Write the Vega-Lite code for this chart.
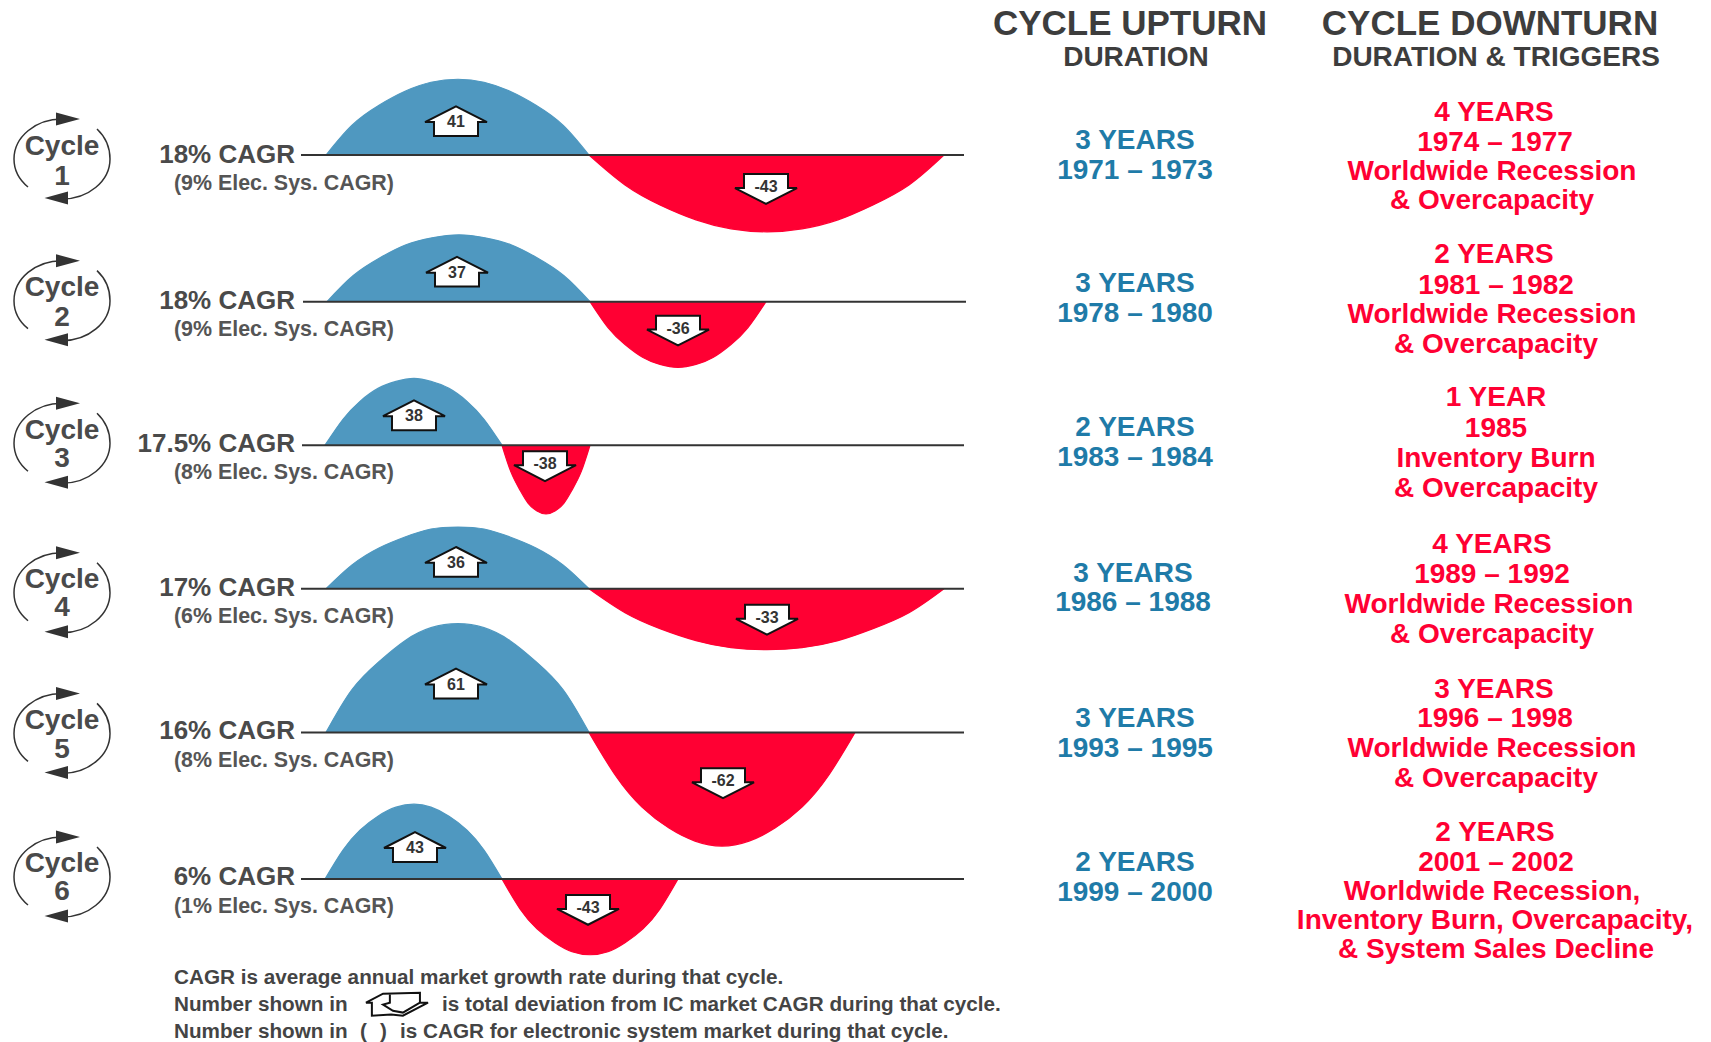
{"$schema":"https://vega.github.io/schema/vega-lite/v6.json","width":1711,"height":1042,"autosize":{"type":"fit","contains":"padding"},"padding":0,"background":"white","view":{"stroke":null},
"datasets":{
"curves":[
{"lobe":"1u","t":"up","x":[326,352,379,405,431,458,484,510,536,563,589],"y":[154,124,104,90,81,78,81,90,104,124,154],"b":154},
{"lobe":"1d","t":"down","x":[589,625,660,696,731,767,802,838,873,909,944],"y":[154,184,204,219,228,231,228,219,204,184,154],"b":154},
{"lobe":"2u","t":"up","x":[327,353,380,406,432,459,485,511,537,564,590],"y":[301,275,257,244,237,234,237,244,257,275,301],"b":301},
{"lobe":"2d","t":"down","x":[590,608,625,643,660,678,696,713,731,748,766],"y":[301,327,344,357,364,367,364,357,344,327,301],"b":301},
{"lobe":"3u","t":"up","x":[325,343,360,378,396,414,431,449,467,484,502],"y":[445,419,401,388,381,378,381,388,401,419,445],"b":445},
{"lobe":"3d","t":"down","x":[502,511,520,528,537,546,555,564,572,581,590],"y":[445,472,490,503,511,514,511,503,490,472,445],"b":445},
{"lobe":"4u","t":"up","x":[326,352,379,405,431,458,484,510,536,563,589],"y":[589,565,548,537,529,527,529,537,548,565,589],"b":589},
{"lobe":"4d","t":"down","x":[589,625,660,696,731,767,802,838,873,909,944],"y":[589,613,629,641,648,650,648,641,629,613,589],"b":589},
{"lobe":"5u","t":"up","x":[326,352,379,405,431,458,484,510,536,563,589],"y":[733,690,662,641,628,624,628,641,662,690,733],"b":733},
{"lobe":"5d","t":"down","x":[589,616,642,669,695,722,749,775,802,828,855],"y":[733,777,808,829,842,847,842,829,808,777,733],"b":733},
{"lobe":"6u","t":"up","x":[325,343,360,378,396,414,431,449,467,484,502],"y":[880,851,831,817,808,805,808,817,831,851,880],"b":880},
{"lobe":"6d","t":"down","x":[502,520,537,555,572,590,608,625,643,660,678],"y":[880,910,930,944,953,956,953,944,930,910,880],"b":880}
],
"baselines":[{"x":301,"x2":964,"y":154},{"x":303,"x2":966,"y":301},{"x":302,"x2":964,"y":445},{"x":301,"x2":964,"y":589},{"x":301,"x2":964,"y":733},{"x":301,"x2":964,"y":880}],
"badges":[{"c":"1","x":62,"y":158},{"c":"2","x":62,"y":300},{"c":"3","x":62,"y":443},{"c":"4","x":62,"y":593},{"c":"5","x":62,"y":734},{"c":"6","x":62,"y":878}],
"upArrows":[{"v":"41","x":456,"y":120},{"v":"37","x":457,"y":271},{"v":"38","x":414,"y":415},{"v":"36","x":456,"y":562},{"v":"61","x":456,"y":684},{"v":"43","x":415,"y":848}],
"downArrows":[{"v":"-43","x":766,"y":188},{"v":"-36","x":678,"y":330},{"v":"-38","x":545,"y":466},{"v":"-33","x":767,"y":620},{"v":"-62","x":723,"y":784},{"v":"-43","x":588,"y":911}],
"center":[
{"s":"CYCLE UPTURN","x":1130,"y":23,"f":35,"c":"#3d3d3d"},{"s":"DURATION","x":1136,"y":57,"f":28,"c":"#3d3d3d"},
{"s":"CYCLE DOWNTURN","x":1490,"y":23,"f":35,"c":"#3d3d3d"},{"s":"DURATION & TRIGGERS","x":1496,"y":57,"f":28,"c":"#3d3d3d"},
{"s":"Cycle","x":62,"y":146,"f":28,"c":"#4a4a4a"},{"s":"1","x":62,"y":176,"f":28,"c":"#4a4a4a"},
{"s":"Cycle","x":62,"y":287,"f":28,"c":"#4a4a4a"},{"s":"2","x":62,"y":317,"f":28,"c":"#4a4a4a"},
{"s":"Cycle","x":62,"y":431,"f":28,"c":"#4a4a4a"},{"s":"3","x":62,"y":459,"f":28,"c":"#4a4a4a"},
{"s":"Cycle","x":62,"y":580,"f":28,"c":"#4a4a4a"},{"s":"4","x":62,"y":608,"f":28,"c":"#4a4a4a"},
{"s":"Cycle","x":62,"y":722,"f":28,"c":"#4a4a4a"},{"s":"5","x":62,"y":751,"f":28,"c":"#4a4a4a"},
{"s":"Cycle","x":62,"y":865,"f":28,"c":"#4a4a4a"},{"s":"6","x":62,"y":893,"f":28,"c":"#4a4a4a"},
{"s":"3 YEARS","x":1135,"y":140,"f":28,"c":"#1f7ba8"},{"s":"1971 – 1973","x":1135,"y":170,"f":28,"c":"#1f7ba8"},
{"s":"3 YEARS","x":1135,"y":283,"f":28,"c":"#1f7ba8"},{"s":"1978 – 1980","x":1135,"y":313,"f":28,"c":"#1f7ba8"},
{"s":"2 YEARS","x":1135,"y":428,"f":28,"c":"#1f7ba8"},{"s":"1983 – 1984","x":1135,"y":458,"f":28,"c":"#1f7ba8"},
{"s":"3 YEARS","x":1133,"y":574,"f":28,"c":"#1f7ba8"},{"s":"1986 – 1988","x":1133,"y":603,"f":28,"c":"#1f7ba8"},
{"s":"3 YEARS","x":1135,"y":720,"f":28,"c":"#1f7ba8"},{"s":"1993 – 1995","x":1135,"y":750,"f":28,"c":"#1f7ba8"},
{"s":"2 YEARS","x":1135,"y":864,"f":28,"c":"#1f7ba8"},{"s":"1999 – 2000","x":1135,"y":894,"f":28,"c":"#1f7ba8"},
{"s":"4 YEARS","x":1494,"y":112,"f":28,"c":"#ff0033"},{"s":"1974 – 1977","x":1495,"y":142,"f":28,"c":"#ff0033"},{"s":"Worldwide Recession","x":1492,"y":171,"f":28,"c":"#ff0033"},{"s":"& Overcapacity","x":1492,"y":200,"f":28,"c":"#ff0033"},
{"s":"2 YEARS","x":1494,"y":254,"f":28,"c":"#ff0033"},{"s":"1981 – 1982","x":1496,"y":285,"f":28,"c":"#ff0033"},{"s":"Worldwide Recession","x":1492,"y":314,"f":28,"c":"#ff0033"},{"s":"& Overcapacity","x":1496,"y":344,"f":28,"c":"#ff0033"},
{"s":"1 YEAR","x":1496,"y":398,"f":28,"c":"#ff0033"},{"s":"1985","x":1496,"y":429,"f":28,"c":"#ff0033"},{"s":"Inventory Burn","x":1496,"y":459,"f":28,"c":"#ff0033"},{"s":"& Overcapacity","x":1496,"y":489,"f":28,"c":"#ff0033"},
{"s":"4 YEARS","x":1492,"y":545,"f":28,"c":"#ff0033"},{"s":"1989 – 1992","x":1492,"y":575,"f":28,"c":"#ff0033"},{"s":"Worldwide Recession","x":1489,"y":605,"f":28,"c":"#ff0033"},{"s":"& Overcapacity","x":1492,"y":635,"f":28,"c":"#ff0033"},
{"s":"3 YEARS","x":1494,"y":690,"f":28,"c":"#ff0033"},{"s":"1996 – 1998","x":1495,"y":720,"f":28,"c":"#ff0033"},{"s":"Worldwide Recession","x":1492,"y":750,"f":28,"c":"#ff0033"},{"s":"& Overcapacity","x":1496,"y":780,"f":28,"c":"#ff0033"},
{"s":"2 YEARS","x":1495,"y":834,"f":28,"c":"#ff0033"},{"s":"2001 – 2002","x":1496,"y":864,"f":28,"c":"#ff0033"},{"s":"Worldwide Recession,","x":1492,"y":893,"f":28,"c":"#ff0033"},{"s":"Inventory Burn, Overcapacity,","x":1495,"y":922,"f":28,"c":"#ff0033"},{"s":"& System Sales Decline","x":1496,"y":951,"f":28,"c":"#ff0033"}
],
"right":[{"s":"18% CAGR","x":295,"y":154},{"s":"18% CAGR","x":295,"y":300},{"s":"17.5% CAGR","x":295,"y":444},{"s":"17% CAGR","x":295,"y":588},{"s":"16% CAGR","x":295,"y":732},{"s":"6% CAGR","x":295,"y":878}],
"left":[
{"s":"(9% Elec. Sys. CAGR)","x":174,"y":182,"f":21.4,"c":"#555555"},{"s":"(9% Elec. Sys. CAGR)","x":174,"y":328,"f":21.4,"c":"#555555"},{"s":"(8% Elec. Sys. CAGR)","x":174,"y":472,"f":21.4,"c":"#555555"},{"s":"(6% Elec. Sys. CAGR)","x":174,"y":616,"f":21.4,"c":"#555555"},{"s":"(8% Elec. Sys. CAGR)","x":174,"y":761,"f":21.4,"c":"#555555"},{"s":"(1% Elec. Sys. CAGR)","x":174,"y":907,"f":21.4,"c":"#555555"},
{"s":"CAGR is average annual market growth rate during that cycle.","x":174,"y":978,"f":20.7,"c":"#444444"},
{"s":"Number shown in","x":174,"y":1005,"f":20.7,"c":"#444444"},{"s":"is total deviation from IC market CAGR during that cycle.","x":442,"y":1005,"f":20.7,"c":"#444444"},
{"s":"Number shown in","x":174,"y":1032,"f":20.7,"c":"#444444"},{"s":"(","x":360,"y":1032,"f":20.7,"c":"#444444"},{"s":")","x":380,"y":1032,"f":20.7,"c":"#444444"},{"s":"is CAGR for electronic system market during that cycle.","x":400,"y":1032,"f":20.7,"c":"#444444"}
],
"icon":[{"x":397,"y":1005}]
},
"encoding":{
"x":{"field":"x","type":"quantitative","scale":{"domain":[0,1711],"nice":false,"zero":false},"axis":null},
"y":{"field":"y","type":"quantitative","scale":{"domain":[1040.5,-1.5],"nice":false,"zero":false},"axis":null}
},
"layer":[
{"data":{"name":"curves"},"transform":[{"flatten":["x","y"]}],"mark":{"type":"area","interpolate":"natural","opacity":1,"line":{"color":"#222222","strokeWidth":1.2}},"encoding":{"y2":{"field":"b"},"detail":{"field":"lobe"},"color":{"field":"t","type":"nominal","scale":{"domain":["up","down"],"range":["#4f98c0","#ff0033"]},"legend":null}}},
{"data":{"name":"baselines"},"mark":{"type":"rule","color":"#333333","strokeWidth":2},"encoding":{"x2":{"field":"x2"}}},
{"data":{"name":"badges"},"mark":{"type":"point","filled":false,"stroke":"#333333","strokeWidth":1.5,"size":10000,"opacity":1,"shape":"M.2,-.78 C.13,-.8 .07,-.8 0,-.8 C-.53,-.8 -.96,-.44 -.96,0 C-.96,.22 -.85,.42 -.68,.56 M.7,-.6 C.87,-.44 .96,-.22 .96,0 C.96,.44 .53,.8 0,.8 C-.03,.8 -.07,.8 -.1,.8"}},
{"data":{"name":"badges"},"mark":{"type":"point","filled":true,"fill":"#333333","opacity":1,"size":10000,"shape":"M-.12,-.93 L.36,-.8 L-.12,-.67 Z M.12,.65 L-.35,.78 L.12,.91 Z"}},
{"data":{"name":"upArrows"},"mark":{"type":"point","filled":true,"fill":"white","stroke":"#111111","strokeWidth":2,"opacity":1,"size":3844,"shape":"M0,-.48 L1,.03 L.71,.03 L.71,.48 L-.71,.48 L-.71,.03 L-1,.03 Z"}},
{"data":{"name":"downArrows"},"mark":{"type":"point","filled":true,"fill":"white","stroke":"#111111","strokeWidth":2,"opacity":1,"size":3844,"shape":"M0,.48 L1,-.03 L.71,-.03 L.71,-.48 L-.71,-.48 L-.71,-.03 L-1,-.03 Z"}},
{"data":{"name":"upArrows"},"mark":{"type":"text","font":"Liberation Sans","fontWeight":"bold","fontSize":16,"color":"#333333","baseline":"middle","dy":1},"encoding":{"text":{"field":"v"}}},
{"data":{"name":"downArrows"},"mark":{"type":"text","font":"Liberation Sans","fontWeight":"bold","fontSize":16,"color":"#333333","baseline":"middle","dy":-2},"encoding":{"text":{"field":"v"}}},
{"data":{"name":"center"},"mark":{"type":"text","font":"Liberation Sans","fontWeight":"bold","baseline":"middle","align":"center"},"encoding":{"text":{"field":"s"},"size":{"field":"f","type":"quantitative","scale":null},"color":{"field":"c","type":"nominal","scale":null}}},
{"data":{"name":"right"},"mark":{"type":"text","font":"Liberation Sans","fontWeight":"bold","baseline":"middle","align":"right","fontSize":26,"color":"#4a4a4a"},"encoding":{"text":{"field":"s"}}},
{"data":{"name":"left"},"mark":{"type":"text","font":"Liberation Sans","fontWeight":"bold","baseline":"middle","align":"left","dy":1},"encoding":{"text":{"field":"s"},"size":{"field":"f","type":"quantitative","scale":null},"color":{"field":"c","type":"nominal","scale":null}}},
{"data":{"name":"icon"},"mark":{"type":"point","filled":true,"fill":"white","stroke":"#111111","strokeWidth":2,"opacity":1,"size":3844,"shape":"M-1,-.03 L-.45,-.32 L.74,-.35 L.74,-.03 L1,-.03 L.19,.39 L-.19,.35 L-.81,.39 L-.81,-.03 Z M-.23,-.32 L-.23,-.03 L-.45,.03 L-.13,.23 L.19,.29 L.74,-.03"}}
]}
